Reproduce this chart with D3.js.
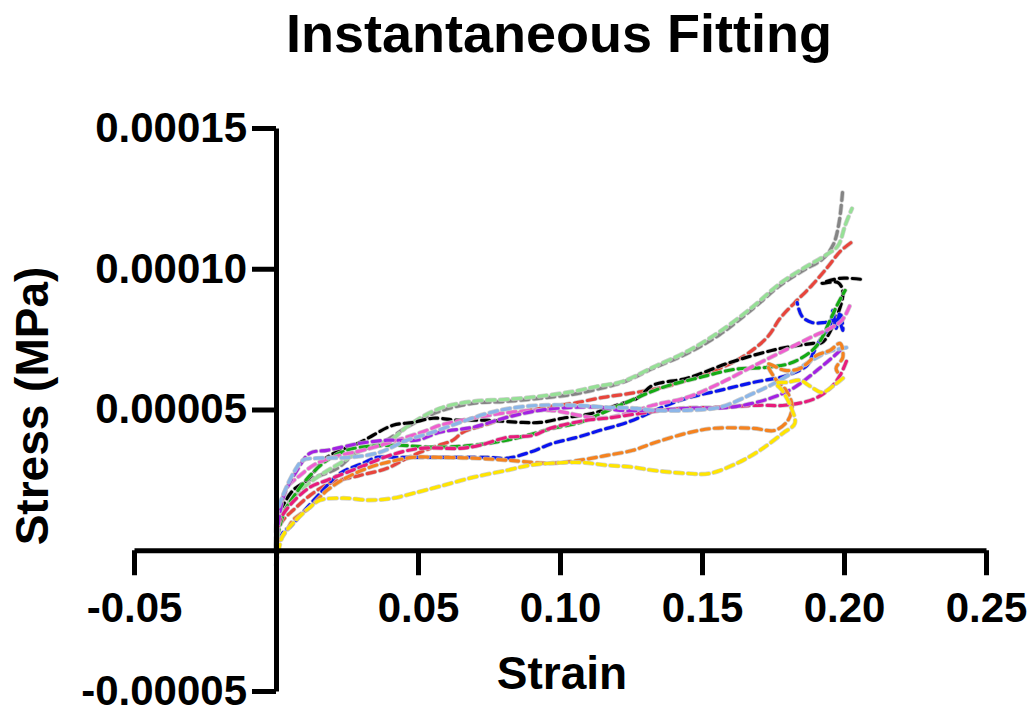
<!DOCTYPE html>
<html><head><meta charset="utf-8">
<script src="https://cdn.jsdelivr.net/npm/d3@7"></script>
<style>
body{margin:0;background:#fff;}
svg{display:block;font-family:"Liberation Sans",Arial,sans-serif;font-weight:bold;}
</style></head>
<body><svg id="chart" width="1033" height="715"></svg>
<script>
const title = "Instantaneous Fitting";
const xTitle = "Strain";
const yTitle = "Stress (MPa)";
const strainTicks = [-0.05, 0.05, 0.10, 0.15, 0.20, 0.25];
const strainTickLabels = ["-0.05", "0.05", "0.10", "0.15", "0.20", "0.25"];
const stressTicks = [-0.00005, 0.00005, 0.00010, 0.00015];
const stressTickLabels = ["-0.00005", "0.00005", "0.00010", "0.00015"];

const seriesNames = ["gray","lightgreen","red","black","blue","green","orchid","crimson","purple","lightblue","orange","yellow"];
const seriesColors = ["#858585","#96e096","#e8453c","#000000","#0a14f0","#14ab14","#ef5fcf","#e81b7c","#a322e3","#8cb6e8","#f5821f","#ffe500"];

const gray = [[0,0.07e-5],[0.0007,1.07e-5],[0.0032,1.78e-5],[0.0085,2.31e-5],[0.013,2.56e-5],[0.0215,2.91e-5],[0.0285,3.48e-5],[0.0377,3.84e-5],[0.0472,4.44e-5],[0.0577,4.94e-5],[0.0694,5.22e-5],[0.0813,5.29e-5],[0.093,5.40e-5],[0.1046,5.54e-5],[0.113,5.72e-5],[0.1222,5.97e-5],[0.1327,6.46e-5],[0.1447,6.99e-5],[0.1563,7.67e-5],[0.168,8.59e-5],[0.1775,9.41e-5],[0.1856,9.94e-5],[0.1925,10.35e-5],[0.1962,10.85e-5],[0.1982,11.6e-5],[0.1996,12.85e-5]];
const lightgreen = [[0,0.18e-5],[0.001,0.89e-5],[0.0039,1.6e-5],[0.0085,2.13e-5],[0.0155,2.66e-5],[0.0225,3.09e-5],[0.032,3.66e-5],[0.0401,3.9e-5],[0.0472,4.47e-5],[0.0577,5.04e-5],[0.0694,5.29e-5],[0.0813,5.36e-5],[0.093,5.47e-5],[0.1046,5.64e-5],[0.113,5.82e-5],[0.1222,6.0e-5],[0.1327,6.5e-5],[0.1447,7.06e-5],[0.1563,7.77e-5],[0.168,8.66e-5],[0.1775,9.48e-5],[0.1856,10.01e-5],[0.194,10.51e-5],[0.1979,10.82e-5],[0.2004,11.54e-5],[0.2028,12.14e-5]];
const red = [[0,0],[0.0007,0.71e-5],[0.0025,1.07e-5],[0.006,1.42e-5],[0.012,1.95e-5],[0.019,2.38e-5],[0.0296,2.66e-5],[0.0391,2.91e-5],[0.0461,3.27e-5],[0.0553,3.66e-5],[0.0623,3.91e-5],[0.0658,4.19e-5],[0.0754,4.51e-5],[0.0849,4.86e-5],[0.0954,5.08e-5],[0.1046,5.22e-5],[0.1151,5.43e-5],[0.1246,5.57e-5],[0.1363,5.79e-5],[0.1447,6.04e-5],[0.1623,6.75e-5],[0.1729,7.56e-5],[0.1775,8.24e-5],[0.1827,8.8e-5],[0.1887,9.41e-5],[0.1944,10.08e-5],[0.1986,10.61e-5],[0.2025,10.93e-5]];
const black = [[0,0.07e-5],[0.0007,1.24e-5],[0.0025,1.6e-5],[0.006,2.13e-5],[0.0109,2.49e-5],[0.018,3.3e-5],[0.0296,3.83e-5],[0.0412,4.44e-5],[0.0482,4.54e-5],[0.0553,4.69e-5],[0.0637,4.62e-5],[0.0729,4.62e-5],[0.087,4.54e-5],[0.093,4.54e-5],[0.101,4.69e-5],[0.113,4.9e-5],[0.12,5.15e-5],[0.1271,5.4e-5],[0.1327,5.86e-5],[0.1447,6.11e-5],[0.1599,6.67e-5],[0.1764,7.14e-5],[0.1891,7.35e-5],[0.1923,7.38e-5],[0.1972,8.24e-5],[0.1996,9.16e-5],[0.1979,9.51e-5],[0.1923,9.48e-5],[0.1986,9.66e-5],[0.2063,9.62e-5]];
const blue = [[0,-0.07e-5],[0.001,0.36e-5],[0.0032,0.71e-5],[0.0049,0.82e-5],[0.0095,1.35e-5],[0.0155,2.02e-5],[0.0225,2.73e-5],[0.0306,3.09e-5],[0.0356,3.3e-5],[0.0437,3.3e-5],[0.0577,3.3e-5],[0.0743,3.3e-5],[0.0813,3.27e-5],[0.0894,3.48e-5],[0.0975,3.8e-5],[0.106,4.01e-5],[0.1141,4.26e-5],[0.1236,4.54e-5],[0.1423,5.33e-5],[0.1563,5.68e-5],[0.168,5.96e-5],[0.1799,6.21e-5],[0.187,6.57e-5],[0.1891,6.99e-5],[0.1915,7.46e-5],[0.1951,7.99e-5],[0.1961,8.52e-5],[0.1972,7.88e-5],[0.1986,8.45e-5],[0.1996,7.81e-5],[0.1979,8.17e-5],[0.1933,8.09e-5],[0.1887,8.09e-5],[0.1852,8.31e-5],[0.1835,8.8e-5]];
const green = [[0,0],[0.001,0.71e-5],[0.0032,1.42e-5],[0.006,1.88e-5],[0.012,2.66e-5],[0.019,3.27e-5],[0.025,3.55e-5],[0.0296,3.66e-5],[0.0426,3.73e-5],[0.0553,3.66e-5],[0.0694,3.73e-5],[0.0813,3.91e-5],[0.0884,4.08e-5],[0.0975,4.33e-5],[0.107,4.54e-5],[0.113,4.79e-5],[0.1211,5.15e-5],[0.1363,5.79e-5],[0.1493,6.14e-5],[0.1616,6.43e-5],[0.1729,6.5e-5],[0.181,6.64e-5],[0.188,7.03e-5],[0.1915,7.42e-5],[0.1951,8.17e-5],[0.1979,8.77e-5],[0.2004,9.23e-5]];
const orchid = [[0,0.07e-5],[0.0007,1.07e-5],[0.0021,1.78e-5],[0.0039,2.24e-5],[0.0085,2.66e-5],[0.0144,3.09e-5],[0.0225,3.37e-5],[0.0306,3.55e-5],[0.0426,3.91e-5],[0.0532,4.26e-5],[0.0577,4.44e-5],[0.0694,4.69e-5],[0.0824,4.9e-5],[0.0965,4.97e-5],[0.1141,4.69e-5],[0.1236,4.86e-5],[0.1327,5.15e-5],[0.1447,5.43e-5],[0.1563,5.93e-5],[0.1694,6.61e-5],[0.1799,7.14e-5],[0.1891,7.6e-5],[0.1951,7.88e-5],[0.1993,8.17e-5],[0.2021,8.7e-5]];
const crimson = [[0,-0.07e-5],[0.0004,0.53e-5],[0.0014,1.07e-5],[0.0049,1.6e-5],[0.012,2.24e-5],[0.018,2.49e-5],[0.0296,2.95e-5],[0.0401,3.37e-5],[0.0507,3.62e-5],[0.0648,3.62e-5],[0.0718,3.73e-5],[0.0813,4.01e-5],[0.0905,4.08e-5],[0.0965,4.33e-5],[0.1095,4.62e-5],[0.1165,4.69e-5],[0.1282,4.86e-5],[0.1423,5.04e-5],[0.1563,5.08e-5],[0.1704,5.15e-5],[0.1792,5.15e-5],[0.1891,5.36e-5],[0.1951,5.75e-5],[0.1986,6.21e-5],[0.201,6.75e-5]];
const purple = [[0,0],[0.001,1.07e-5],[0.0028,1.95e-5],[0.0074,2.84e-5],[0.012,3.45e-5],[0.018,3.55e-5],[0.0261,3.73e-5],[0.0296,3.8e-5],[0.0391,3.91e-5],[0.0496,3.91e-5],[0.0577,4.19e-5],[0.0694,4.37e-5],[0.0813,4.72e-5],[0.093,4.97e-5],[0.1046,5.08e-5],[0.1141,5.08e-5],[0.1211,4.97e-5],[0.1327,4.97e-5],[0.1447,5.04e-5],[0.1599,5.08e-5],[0.1729,5.36e-5],[0.182,5.75e-5],[0.1905,6.39e-5],[0.1975,6.99e-5],[0.1993,7.17e-5]];
const lightblue = [[0,0.18e-5],[0.0004,1.31e-5],[0.0032,2.13e-5],[0.0067,2.84e-5],[0.0095,3.2e-5],[0.0144,3.27e-5],[0.0261,3.3e-5],[0.0366,3.48e-5],[0.0461,3.91e-5],[0.0542,4.16e-5],[0.0648,4.54e-5],[0.0743,4.86e-5],[0.0824,5.04e-5],[0.093,5.15e-5],[0.1046,5.15e-5],[0.1165,5.08e-5],[0.1271,5.04e-5],[0.1327,4.97e-5],[0.1447,4.97e-5],[0.1563,5.08e-5],[0.168,5.57e-5],[0.1775,6.04e-5],[0.187,6.64e-5],[0.194,7.03e-5],[0.2014,7.21e-5]];
const orange = [[0,-0.07e-5],[0.0014,0.36e-5],[0.0039,0.71e-5],[0.006,1.07e-5],[0.012,1.53e-5],[0.018,2.13e-5],[0.025,2.59e-5],[0.0331,2.95e-5],[0.0391,3.12e-5],[0.0482,3.3e-5],[0.0577,3.3e-5],[0.0694,3.27e-5],[0.0813,3.2e-5],[0.0965,3.09e-5],[0.107,3.2e-5],[0.1165,3.37e-5],[0.1257,3.55e-5],[0.1327,3.8e-5],[0.1447,4.16e-5],[0.1539,4.33e-5],[0.168,4.33e-5],[0.1757,4.26e-5],[0.1803,4.62e-5],[0.1817,5.15e-5],[0.1796,5.68e-5],[0.1757,6.11e-5],[0.1732,6.61e-5],[0.1792,6.39e-5],[0.1845,6.46e-5],[0.1905,6.93e-5],[0.1951,7.1e-5],[0.1986,7.35e-5],[0.1996,6.86e-5],[0.1972,6.46e-5],[0.1986,6.21e-5]];
const yellow = [[0,-0.53e-5],[0.0007,-0.11e-5],[0.0025,0.53e-5],[0.006,0.96e-5],[0.012,1.53e-5],[0.0155,1.78e-5],[0.0236,1.85e-5],[0.0331,1.78e-5],[0.0412,1.85e-5],[0.0482,2.02e-5],[0.0577,2.27e-5],[0.0694,2.59e-5],[0.0813,2.84e-5],[0.0894,3.02e-5],[0.0965,3.09e-5],[0.107,3.12e-5],[0.1165,3.02e-5],[0.1257,2.95e-5],[0.1327,2.84e-5],[0.1447,2.73e-5],[0.1528,2.73e-5],[0.1623,3.09e-5],[0.1704,3.55e-5],[0.1785,4.16e-5],[0.1827,4.51e-5],[0.181,5.15e-5],[0.1782,5.68e-5],[0.1761,5.93e-5],[0.1803,5.97e-5],[0.1845,6.04e-5],[0.188,5.83e-5],[0.1923,5.61e-5],[0.1965,5.86e-5],[0.2004,6.18e-5]];

const seriesData = [gray, lightgreen, red, black, blue, green, orchid, crimson, purple, lightblue, orange, yellow];

const svg = d3.select("#chart");
const x = d3.scaleLinear().domain([-0.05, 0.25]).range([134, 986]);
const y = d3.scaleLinear().domain([-0.00005, 0.00015]).range([691, 128]);

// lines
const line = d3.line().x(d => x(d[0])).y(d => y(d[1])).curve(d3.curveCatmullRom.alpha(0.5));
const gLines = svg.append("g");
seriesData.forEach((s, i) => {
  gLines.append("path").attr("d", line(s)).attr("fill", "none")
    .attr("stroke", "#c4c4c4").attr("stroke-width", 4.6).attr("stroke-dasharray", "8,5")
    .attr("stroke-linecap", "round").attr("opacity", 0.8);
  gLines.append("path").attr("d", line(s)).attr("fill", "none")
    .attr("stroke", seriesColors[i]).attr("stroke-width", 3.2).attr("stroke-dasharray", "8,5")
    .attr("stroke-linecap", "round");
});

// x axis
const xAxis = d3.axisBottom(x).tickValues(strainTicks)
  .tickFormat((d, i) => strainTickLabels[i]).tickSize(25).tickSizeOuter(0).tickPadding(17);
const gx = svg.append("g").attr("transform", `translate(0,${y(0)})`).call(xAxis);
gx.select(".domain").attr("stroke-width", 5).attr("stroke", "#000");
gx.selectAll(".tick line").attr("stroke-width", 5).attr("stroke", "#000");
gx.selectAll(".tick text").attr("font-size", 42).attr("font-family", "Liberation Sans, Arial, sans-serif")
  .attr("font-weight", "bold").attr("fill", "#000");

// y axis
const yAxis = d3.axisLeft(y).tickValues(stressTicks)
  .tickFormat((d, i) => stressTickLabels[i]).tickSize(24).tickSizeOuter(0).tickPadding(5);
const gy = svg.append("g").attr("transform", `translate(${x(0)},0)`).call(yAxis);
gy.select(".domain").attr("stroke-width", 5).attr("stroke", "#000");
gy.selectAll(".tick line").attr("stroke-width", 5).attr("stroke", "#000");
gy.selectAll(".tick text").attr("font-size", 42).attr("font-family", "Liberation Sans, Arial, sans-serif")
  .attr("font-weight", "bold").attr("fill", "#000");

// titles
svg.append("text").attr("x", 559).attr("y", 52).attr("text-anchor", "middle")
  .attr("font-size", 54).text(title);
svg.append("text").attr("x", 562).attr("y", 689).attr("text-anchor", "middle")
  .attr("font-size", 46).text(xTitle);
svg.append("text").attr("transform", "translate(48,406) rotate(-90)").attr("text-anchor", "middle")
  .attr("font-size", 46).text(yTitle);
</script>
</body></html>
